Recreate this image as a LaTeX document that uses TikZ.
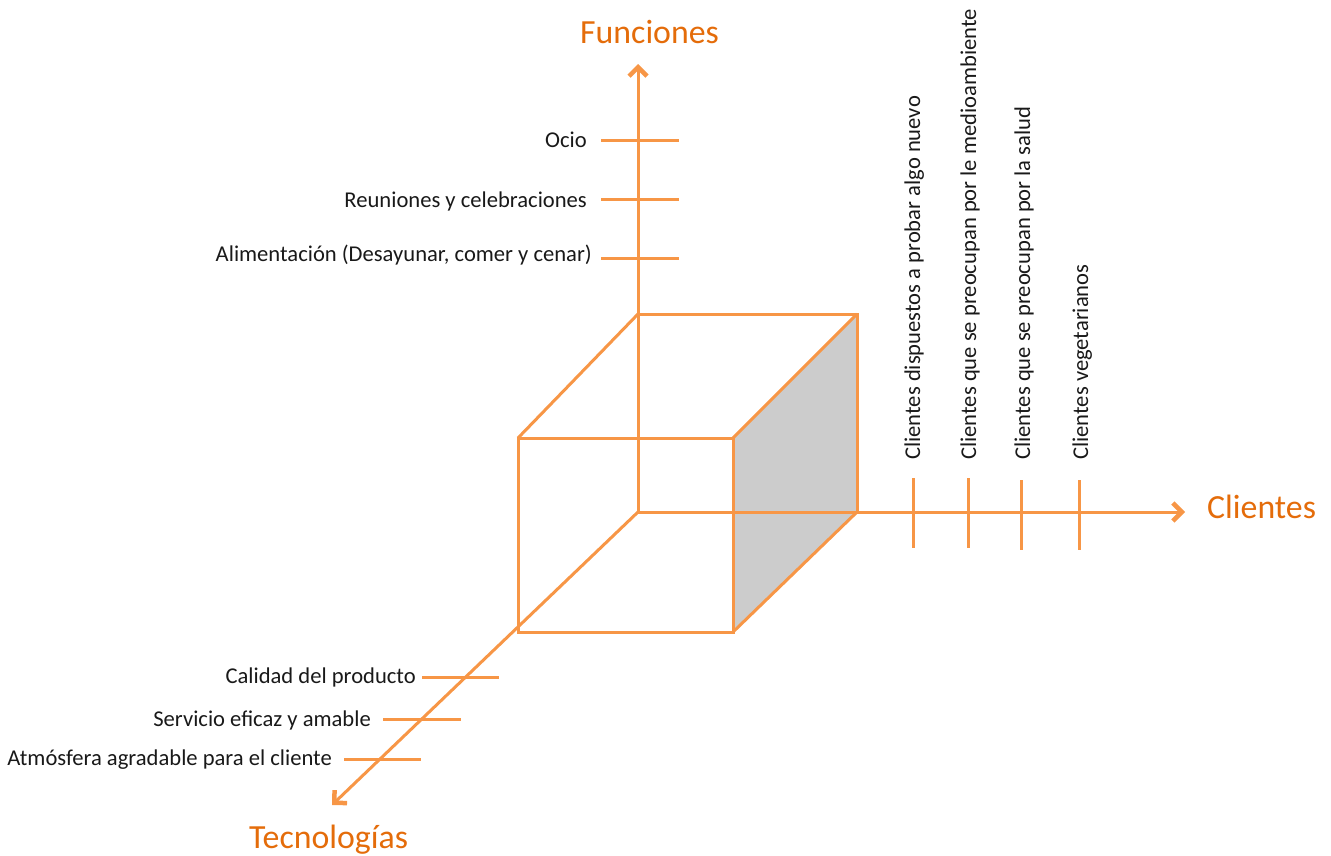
\documentclass[tikz,border=0pt]{standalone}
\usepackage{fontspec}
\setmainfont{Carlito}
\usetikzlibrary{arrows.meta}
\definecolor{axisor}{HTML}{F79646}
\definecolor{titleor}{HTML}{E46C0A}
\definecolor{faceg}{HTML}{CCCCCC}
\begin{document}
\begin{tikzpicture}[x=1pt,y=-1pt,
  edge/.style={draw=axisor,line width=3pt,line join=miter},
  axisline/.style={draw=axisor,line width=3pt,-{Straight Barb[length=9pt,width=18pt,line width=4.5pt]}},
  tick/.style={draw=axisor,line width=3pt},
  lbl/.style={inner sep=0pt,font=\fontsize{22.6}{26}\selectfont,text=black!90},
  ttl/.style={inner sep=0pt,font=\fontsize{33.8}{40}\selectfont,text=titleor}]
\useasboundingbox (0,0) rectangle (1331,855);
% cube corners
\coordinate (O) at (638,512);
\coordinate (BTL) at (638,314);
\coordinate (BTR) at (857,314);
\coordinate (BBR) at (857,512);
\coordinate (FTL) at (518,438);
\coordinate (FTR) at (733,438);
\coordinate (FBL) at (518,632);
\coordinate (FBR) at (733,632);
% shaded right face
\fill[faceg] (FTR) -- (BTR) -- (BBR) -- (FBR) -- cycle;
% cube edges
\draw[edge] (FTL) rectangle (FBR);
\draw[edge] (BTL) -- (BTR) -- (BBR);
\draw[edge] (FTL) -- (BTL);
\draw[edge] (FTR) -- (BTR);
\draw[edge] (FBR) -- (BBR);
% axes
\coordinate (Fend) at (638,64);
\coordinate (Cend) at (1185,512);
\coordinate (Tend) at (332,805);
\draw[axisline] (O) -- (Fend);
\draw[axisline] (O) -- (Cend);
\draw[axisline] (O) -- (Tend);
% titles
\node[ttl,anchor=base west] (fun) at (580,43) {Funciones};
\node[ttl,anchor=base west] (cli) at (1207,518) {Clientes};
\node[ttl,anchor=base west] (tec) at (249,848) {Tecnologías};
% Funciones ticks
\coordinate (f1a) at (601,140); \coordinate (f1b) at (679,140);
\coordinate (f2a) at (601,199); \coordinate (f2b) at (679,199);
\coordinate (f3a) at (601,258); \coordinate (f3b) at (679,258);
\draw[tick] (f1a) -- (f1b);
\draw[tick] (f2a) -- (f2b);
\draw[tick] (f3a) -- (f3b);
\node[lbl,anchor=base east] (ocio) at (587,147) {Ocio};
\node[lbl,anchor=base east] (reun) at (587,207) {Reuniones y celebraciones};
\node[lbl,anchor=base east] (alim) at (592,261) {Alimentación (Desayunar, comer y cenar)};
% Clientes ticks
\coordinate (c1a) at (913,478); \coordinate (c1b) at (913,548);
\coordinate (c2a) at (968,478); \coordinate (c2b) at (968,548);
\coordinate (c3a) at (1021,480); \coordinate (c3b) at (1021,550);
\coordinate (c4a) at (1079,480); \coordinate (c4b) at (1079,550);
\draw[tick] (c1a) -- (c1b);
\draw[tick] (c2a) -- (c2b);
\draw[tick] (c3a) -- (c3b);
\draw[tick] (c4a) -- (c4b);
\node[lbl,rotate=90,anchor=base west] (cl1) at (920,460) {Clientes dispuestos a probar algo nuevo};
\node[lbl,rotate=90,anchor=base west] (cl2) at (976,460) {Clientes que se preocupan por le medioambiente};
\node[lbl,rotate=90,anchor=base west] (cl3) at (1030,460) {Clientes que se preocupan por la salud};
\node[lbl,rotate=90,anchor=base west] (cl4) at (1088,460) {Clientes vegetarianos};
% Tecnologias ticks
\coordinate (t1a) at (422,677); \coordinate (t1b) at (499,677);
\coordinate (t2a) at (383,719); \coordinate (t2b) at (461,719);
\coordinate (t3a) at (344,759); \coordinate (t3b) at (421,759);
\draw[tick] (t1a) -- (t1b);
\draw[tick] (t2a) -- (t2b);
\draw[tick] (t3a) -- (t3b);
\node[lbl,anchor=base east] (cal) at (416,683) {Calidad del producto};
\node[lbl,anchor=base east] (ser) at (371,726) {Servicio eficaz y amable};
\node[lbl,anchor=base east] (atm) at (332,765) {Atmósfera agradable para el cliente};
\end{tikzpicture}
\end{document}
